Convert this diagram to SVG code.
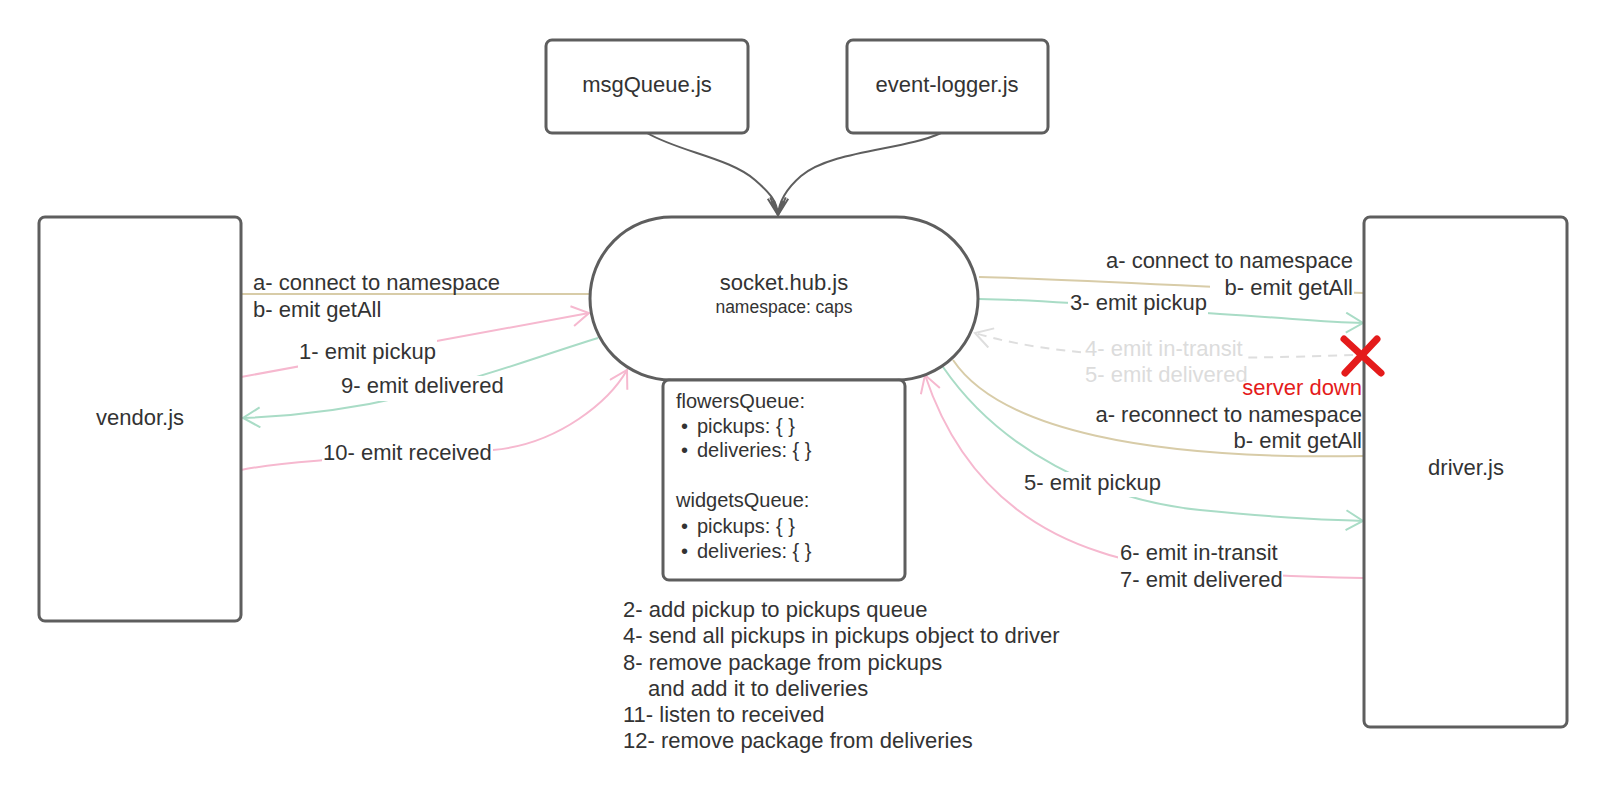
<svg xmlns="http://www.w3.org/2000/svg" width="1606" height="811" viewBox="0 0 1606 811">
<style>
.node{fill:#fff;stroke:#5e5e5e;stroke-width:3}
.t{font-family:"Liberation Sans",Arial,sans-serif;fill:#333}
.nl{font-size:22px;text-anchor:middle}
.lb{font-size:22px}
.q{font-size:20px}
.c{fill:none;stroke-width:2}
.beige{stroke:#d8cca8}
.green{stroke:#a9dcc6}
.pink{stroke:#f6b8cf}
.grey{stroke:#dedede;stroke-dasharray:9 7}
.dark{stroke:#5e5e5e}
</style>
<defs>
<marker id="ap" markerUnits="userSpaceOnUse" markerWidth="22" markerHeight="24" refX="19" refY="11" orient="auto"><path d="M2,1 L19,11 L2,21" fill="none" stroke="#f6b8cf" stroke-width="2"/></marker>
<marker id="ag" markerUnits="userSpaceOnUse" markerWidth="22" markerHeight="24" refX="19" refY="11" orient="auto"><path d="M2,1 L19,11 L2,21" fill="none" stroke="#a9dcc6" stroke-width="2"/></marker>
<marker id="agr" markerUnits="userSpaceOnUse" markerWidth="22" markerHeight="24" refX="19" refY="11" orient="auto"><path d="M2,1 L19,11 L2,21" fill="none" stroke="#dedede" stroke-width="2"/></marker>
<marker id="ad" markerUnits="userSpaceOnUse" markerWidth="22" markerHeight="24" refX="19" refY="11" orient="auto"><path d="M2,2 L19,11 L2,20 M5,6 L19,11 L5,16" fill="none" stroke="#5e5e5e" stroke-width="2"/></marker>
<mask id="gaps" maskUnits="userSpaceOnUse" x="0" y="0" width="1606" height="811">
<rect width="1606" height="811" fill="#fff"/>
<rect x="298" y="338" width="139" height="30" fill="#000"/>
<rect x="341" y="376" width="163" height="25" fill="#000"/>
<rect x="322" y="441" width="171" height="26" fill="#000"/>
<rect x="1210" y="279" width="144" height="22" fill="#000"/>
<rect x="1068" y="293" width="140" height="23" fill="#000"/>
<rect x="1083" y="339" width="165" height="48" fill="#000"/>
<rect x="1022" y="472" width="141" height="25" fill="#000"/>
<rect x="1118" y="542" width="165" height="51" fill="#000"/>
</mask>
</defs>
<rect width="1606" height="811" fill="#fff"/>

<g id="connectors" mask="url(#gaps)">
<path class="c dark" d="M647,133 C680,152 730,158 755,180 C770,193 777,201 778,215" marker-end="url(#ad)"/>
<path class="c dark" d="M941,133 C905,150 832,150 801,176 C786,189 779,201 778,215" marker-end="url(#ad)"/>
<path class="c beige" d="M241,294 L590,294"/>
<path class="c pink" d="M241,377 L589,313" marker-end="url(#ap)"/>
<path class="c green" d="M598,338 C500,368 400,412 243,418" marker-end="url(#ag)"/>
<path class="c pink" d="M241,470 C300,458 420,456 493,450 C560,444 610,400 627,370" marker-end="url(#ap)"/>
<path class="c beige" d="M979,277 C1100,280 1250,290 1364,293"/>
<path class="c green" d="M979,299 C1060,300 1150,310 1220,314 S1320,322 1363,323" marker-end="url(#ag)"/>
<path class="c grey" d="M1353,355 C1250,358 1080,365 975,333" marker-end="url(#agr)"/>
<path class="c beige" d="M953,360 C1000,430 1150,460 1364,456"/>
<path class="c green" d="M943,367 C1000,450 1100,500 1200,510 S1320,519 1363,521" marker-end="url(#ag)"/>
<path class="c pink" d="M1363,578 C1250,576 1150,570 1100,552 C1000,520 950,450 925,375" marker-end="url(#ap)"/>
</g>

<g id="msgQueue">
<rect class="node" x="546" y="40" width="202" height="93" rx="6"/>
<text class="t nl" x="647" y="92">msgQueue.js</text>
</g>
<g id="eventLogger">
<rect class="node" x="847" y="40" width="201" height="93" rx="6"/>
<text class="t nl" x="947" y="92">event-logger.js</text>
</g>
<g id="vendor">
<rect class="node" x="39" y="217" width="202" height="404" rx="6"/>
<text class="t nl" x="140" y="425">vendor.js</text>
</g>
<g id="driver">
<rect class="node" x="1364" y="217" width="203" height="510" rx="6"/>
<text class="t nl" x="1466" y="475">driver.js</text>
</g>
<g id="hub">
<rect class="node" x="590" y="217" width="388" height="163" rx="81.5"/>
<text class="t nl" x="784" y="290">socket.hub.js</text>
<text class="t" x="784" y="313" font-size="17.5px" text-anchor="middle">namespace: caps</text>
</g>
<g id="queues">
<rect class="node" x="663" y="380" width="242" height="200" rx="6"/>
<text class="t q" x="676" y="408">flowersQueue:</text>
<text class="t q"><tspan x="681" y="433">•</tspan><tspan x="697" y="433">pickups: { }</tspan></text>
<text class="t q"><tspan x="681" y="457">•</tspan><tspan x="697" y="457">deliveries: { }</tspan></text>
<text class="t q" x="676" y="507">widgetsQueue:</text>
<text class="t q"><tspan x="681" y="533">•</tspan><tspan x="697" y="533">pickups: { }</tspan></text>
<text class="t q"><tspan x="681" y="558">•</tspan><tspan x="697" y="558">deliveries: { }</tspan></text>
</g>

<g id="notes" class="t lb">
<text x="623" y="617">2- add pickup to pickups queue</text>
<text x="623" y="643">4- send all pickups in pickups object to driver</text>
<text x="623" y="670">8- remove package from pickups</text>
<text x="648" y="696">and add it to deliveries</text>
<text x="623" y="722">11- listen to received</text>
<text x="623" y="748">12- remove package from deliveries</text>
</g>

<g id="labels" class="t lb">
<text x="253" y="290">a- connect to namespace</text>
<text x="253" y="317">b- emit getAll</text>
<text x="299" y="359">1- emit pickup</text>
<text x="341" y="393">9- emit delivered</text>
<text x="323" y="460">10- emit received</text>
<text x="1353" y="268" text-anchor="end">a- connect to namespace</text>
<text x="1353" y="295" text-anchor="end">b- emit getAll</text>
<text x="1070" y="310">3- emit pickup</text>
<text x="1085" y="356" fill="#dcdcdc">4- emit in-transit</text>
<text x="1085" y="382" fill="#dcdcdc">5- emit delivered</text>
<text x="1362" y="395" text-anchor="end" fill="#e41b1b">server down</text>
<text x="1362" y="422" text-anchor="end">a- reconnect to namespace</text>
<text x="1362" y="448" text-anchor="end">b- emit getAll</text>
<text x="1024" y="490">5- emit pickup</text>
<text x="1120" y="560">6- emit in-transit</text>
<text x="1120" y="587">7- emit delivered</text>
</g>

<g id="serverDown" stroke="#e41b1b" stroke-width="7" stroke-linecap="round" fill="none">
<path d="M1344,339 L1381,373"/>
<path d="M1377,339 L1345,373"/>
</g>
</svg>
